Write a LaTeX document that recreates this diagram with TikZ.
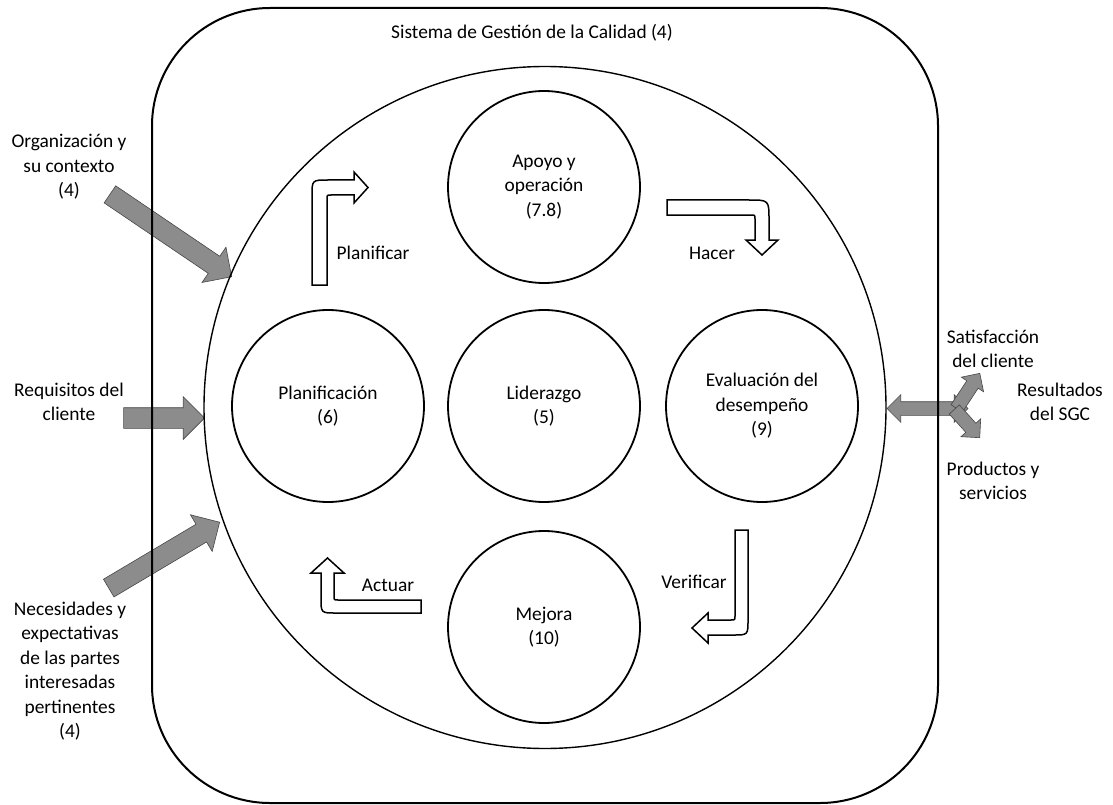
\documentclass[tikz,border=0pt]{standalone}
\usepackage{fontspec}
\setmainfont{Carlito}
\usetikzlibrary{shapes.arrows}

\begin{document}
\begin{tikzpicture}
[x=1pt,y=-1pt,thick,%
  every node/.style={font=\fontsize{19.4}{24.5}\selectfont},%
  txt/.style={align=center,inner sep=1pt},%
  proc/.style={shape=circle,draw,line width=1.8pt,minimum size=192pt,inner sep=0pt,align=center},%
  grayfill/.style={draw=black!72,fill=black!45,line width=0.6pt,inner xsep=0pt},%
  inarrow/.style={grayfill,single arrow,inner ysep=10pt,single arrow head extend=11pt,anchor=tip},%
  smallarrow/.style={grayfill,single arrow,inner ysep=6.5pt,single arrow head extend=6.5pt,anchor=tip},%
  pdca/.style={draw,fill=white,line width=1.5pt}]
\useasboundingbox (0,0) rectangle (1113,805);
%%
\node[inarrow,minimum height=147pt,rotate=-34.1] (orgarrow) at (232,277) {};
\node[inarrow,minimum height=81pt] (reqarrow) at (205,418) {};
\node[inarrow,minimum height=129pt,rotate=30.7] (necarrow) at (220,522) {};
\node[grayfill,double arrow,inner ysep=6.5pt,minimum height=81pt,double arrow head extend=7pt] (resarrow) at (927.5,408.5) {};
\node[smallarrow,minimum height=42pt,rotate=56.7] (satarrow) at (980,373) {};
\node[smallarrow,minimum height=38pt,rotate=-48] (prodarrow) at (980,438) {};
%%
\node[draw,line width=2pt,rounded corners=118pt,minimum width=786pt,minimum height=795pt,inner sep=0pt] (sgcbox) at (545,405.5) {};
\node[draw,circle,line width=1.4pt,minimum size=682pt,inner sep=0pt] (ciclo) at (545,407.5) {};
%%
\node[txt] (sgc) at (532,33) {Sistema de Gestión de la Calidad (4)};
\node[txt] (org) at (69,167) {Organización y\\su contexto\\(4)};
\node[txt] (req) at (69,402) {Requisitos del\\cliente};
\node[txt] (nec) at (70,671) {Necesidades y\\expectativas\\de las partes\\interesadas\\pertinentes\\(4)};
\node[txt] (sat) at (993,349) {Satisfacción\\del cliente};
\node[txt] (res) at (1060,402) {Resultados\\del SGC};
\node[txt] (prod) at (993,481) {Productos y\\servicios};
%%
\node[proc] (apoyo) at (544,187) {Apoyo y\\operación\\(7.8)};
\node[proc] (plan) at (328,406) {Planificación\\(6)};
\node[proc] (lider) at (544,406) {Liderazgo\\(5)};
\node[proc] (eval) at (762,406) {Evaluación del\\desempeño\\(9)};
\node[proc] (mejora) at (544,627) {Mejora\\(10)};
%%
\draw[pdca] (312,285) -- (312,196) .. controls (312,180) .. (328,180) -- (354,180) -- (354,172)
  -- (368,187.5) -- (354,203) -- (354,195) -- (331,195) .. controls (327,195) .. (327,199)
  -- (327,285) -- cycle;
\draw[pdca] (667,200) -- (749,200) .. controls (769,200) .. (769,220) -- (769,240) -- (778,240)
  -- (762,255) -- (746,240) -- (755,240) -- (755,219) .. controls (755,215) .. (751,215)
  -- (667,215) -- cycle;
\draw[pdca] (735,530) -- (748,530) -- (748,620) .. controls (748,635) .. (733,635) -- (708,635)
  -- (708,643) -- (692,628) -- (708,613) -- (708,620) -- (731,620) .. controls (735,620) .. (735,616)
  -- cycle;
\draw[pdca] (421,600) -- (421,613) -- (336,613) .. controls (321,613) .. (321,598) -- (321,573)
  -- (311,573) -- (327.5,558) -- (344,573) -- (334,573) -- (334,596) .. controls (334,600) .. (338,600)
  -- cycle;
%%
\node[txt] (planificar) at (373,253) {Planificar};
\node[txt] (hacer) at (712,253) {Hacer};
\node[txt] (verificar) at (694,582) {Verificar};
\node[txt] (actuar) at (388,585) {Actuar};
\end{tikzpicture}
\end{document}
